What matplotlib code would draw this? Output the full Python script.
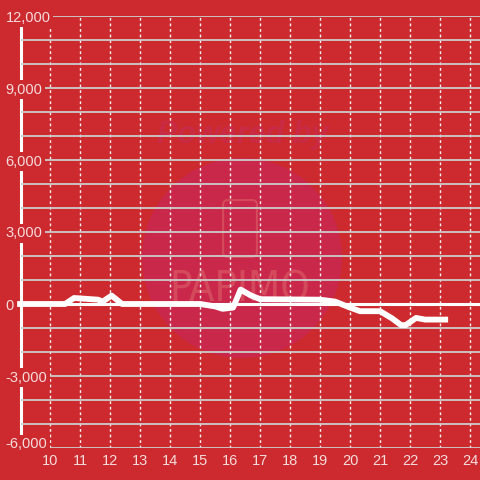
import matplotlib.pyplot as plt
from matplotlib.patches import Circle, FancyBboxPatch
from matplotlib.ticker import FuncFormatter, MultipleLocator

# hourly series
hours = [9.0, 10.5, 10.8, 11.6, 11.75, 12.05, 12.4, 15.0, 15.5, 15.75, 16.1, 16.35,
         16.7, 17.0, 19.0, 19.5, 20.0, 20.33, 21.0, 21.4, 21.7, 21.85, 22.2, 22.5, 23.17]
values = [0, 0, 250, 180, 100, 350, 0, 0, -100, -200, -150, 600,
          350, 200, 180, 100, -150, -300, -300, -600, -880, -880, -580, -650, -650]
x_ticks = list(range(10, 25))
y_ticks = [-6000, -3000, 0, 3000, 6000, 9000, 12000]

bg = '#cc2a2e'
txt = '#f3dcdc'

plt.rcParams['font.family'] = ['Liberation Sans', 'DejaVu Sans']

fig = plt.figure(figsize=(4.8, 4.8), dpi=100, facecolor=bg)

# watermark
fig.patches.append(Circle((242 / 480, 1 - 258 / 480), 100 / 480, transform=fig.transFigure,
                          facecolor='#c9284a', edgecolor='none', zorder=-2))
fig.patches.append(FancyBboxPatch((225 / 480, 1 - 255 / 480), 30 / 480, 53 / 480,
                                  boxstyle='round,pad=0.004,rounding_size=0.01',
                                  transform=fig.transFigure, facecolor='none',
                                  edgecolor='#d44a5c', lw=1.5, zorder=-1))
fig.text(243 / 480, 1 - 135 / 480, 'Powered by', ha='center', va='center', fontsize=22,
         fontweight='bold', fontstyle='italic', color='#c92b44', zorder=-1)
fig.text(240 / 480, 1 - 290 / 480, 'PAPIMO', ha='center', va='center', fontsize=30,
         color='#d44a5c', family='DejaVu Sans', fontweight='light', fontstretch='condensed',
         zorder=-1, transform=fig.transFigure)

ax = fig.add_axes([21 / 480, 32 / 480, 459 / 480, 432 / 480])
ax.set_facecolor('none')
ax.set_xlim(9.03, 24.33)
ax.set_ylim(-6000, 12000)

ax.set_xticks(x_ticks)
ax.set_yticks(y_ticks)
ax.yaxis.set_minor_locator(MultipleLocator(1000))
ax.yaxis.set_major_formatter(FuncFormatter(lambda v, p: f'{int(v):,}'))

ax.grid(axis='y', which='both', color='#cccccc', lw=1.3)
ax.grid(axis='x', color='#f0f0f0', lw=1, ls=(0, (2, 2)))

for s in ['top', 'right', 'bottom']:
    ax.spines[s].set_visible(False)
ax.spines['left'].set_color('white')
ax.spines['left'].set_linewidth(2.2)
ax.spines['left'].set_zorder(1)

ax.tick_params(axis='both', which='both', length=0, colors=txt, labelsize=10.5)
ax.tick_params(axis='y', pad=11)
ax.tick_params(axis='x', pad=4)
for lbl in ax.get_yticklabels():
    lbl.set_ha('left')
    lbl.set_bbox(dict(facecolor=bg, edgecolor='none', pad=1.5))
ax.get_yticklabels()[0].set_va('baseline')

ax.axhline(0, color='white', lw=2.2, zorder=2)
ax.plot(hours, values, color='white', lw=4.2, solid_joinstyle='round', zorder=3, clip_on=False)

fig.savefig('out.png', dpi=100, facecolor=bg)
